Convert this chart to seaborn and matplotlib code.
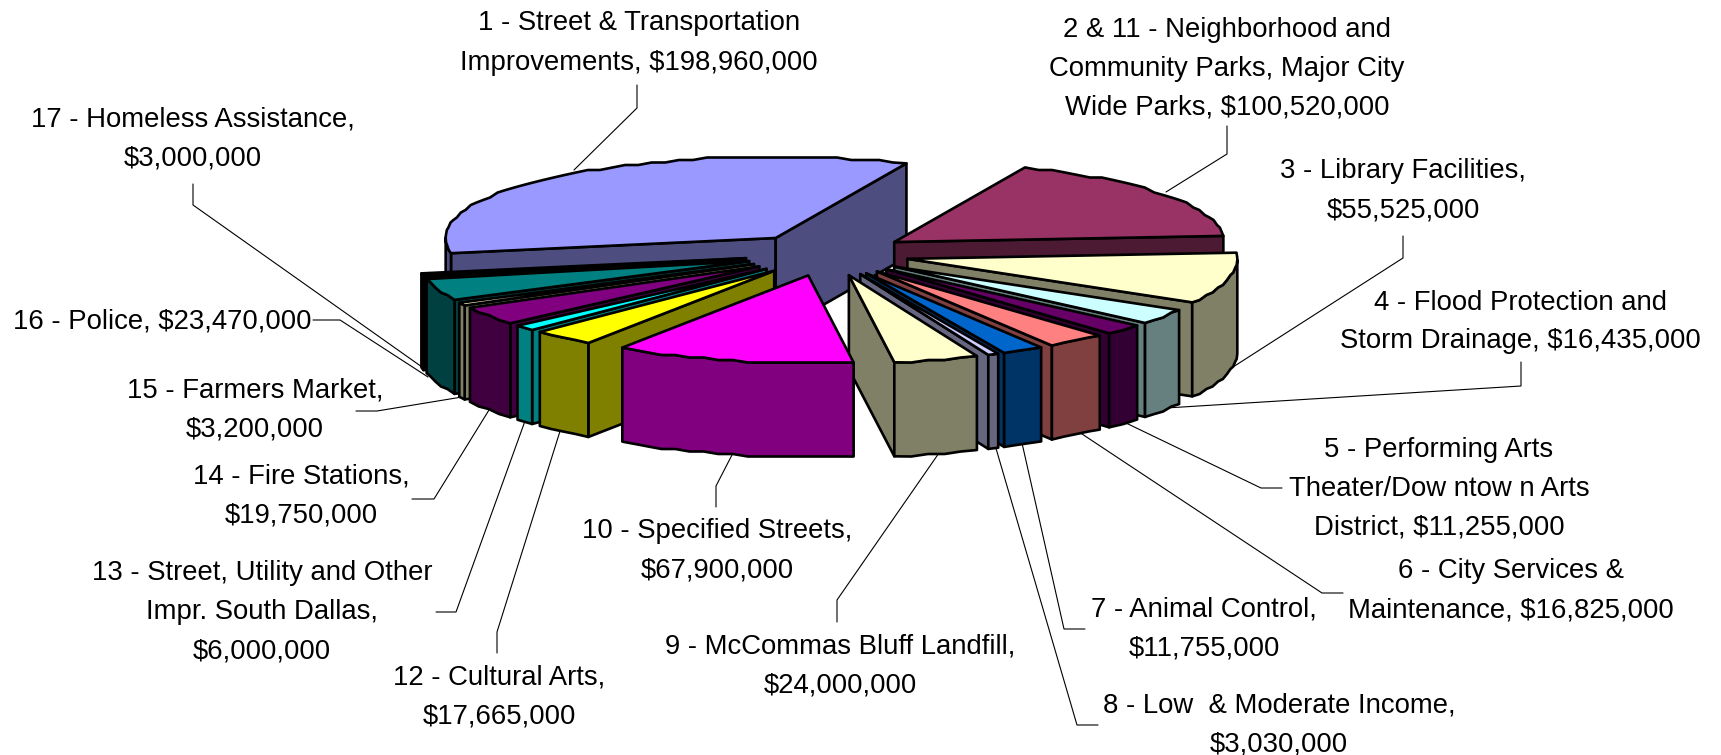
import numpy as np
import matplotlib
matplotlib.use("Agg")
import matplotlib.pyplot as plt
from matplotlib.patches import Polygon
import seaborn as sns

# ---- data ----
labels = ["1 - Street & Transportation\nImprovements, $198,960,000",
          "2 & 11 - Neighborhood and\nCommunity Parks, Major City\nWide Parks, $100,520,000",
          "3 - Library Facilities,\n$55,525,000",
          "4 - Flood Protection and\nStorm Drainage, $16,435,000",
          "5 - Performing Arts\nTheater/Dow ntow n Arts\nDistrict, $11,255,000",
          "6 - City Services &\nMaintenance, $16,825,000",
          "7 - Animal Control,\n$11,755,000",
          "8 - Low  & Moderate Income,\n$3,030,000",
          "9 - McCommas Bluff Landfill,\n$24,000,000",
          "10 - Specified Streets,\n$67,900,000",
          "12 - Cultural Arts,\n$17,665,000",
          "13 - Street, Utility and Other\nImpr. South Dallas,\n$6,000,000",
          "14 - Fire Stations,\n$19,750,000",
          "15 - Farmers Market,\n$3,200,000",
          "16 - Police, $23,470,000",
          "17 - Homeless Assistance,\n$3,000,000"]
values = [198960000, 100520000, 55525000, 16435000, 11255000, 16825000, 11755000, 3030000,
          24000000, 67900000, 17665000, 6000000, 19750000, 3200000, 23470000, 3000000]
colors = ["#9999FF", "#993366", "#FFFFCC", "#CCFFFF", "#660066", "#FF8080", "#0066CC", "#CCCCFF",
          "#FFFFCC", "#FF00FF", "#FFFF00", "#00FFFF", "#800080", "#FFFFCC", "#008080", "#0A0A0A"]

# label anchor centres (figure pixels)
label_xy = [(639, 43), (1227, 69), (1403, 191), (1520, 322), (1439, 489), (1511, 591),
            (1204, 629), (1279, 725), (840, 666), (717, 551), (499, 697), (262, 612),
            (301, 496), (255, 410), (162, 322), (193, 139)]
leaders = [[(637, 85), (637, 108), (574, 170)],
           [(1227, 126), (1227, 154), (1166, 192)],
           [(1403, 236), (1403, 258), (1233, 367)],
           [(1521, 362), (1521, 386), (1166, 408)],
           [(1282, 488), (1261, 488), (1126, 423)],
           [(1343, 593), (1322, 593), (1079, 432)],
           [(1085, 629), (1064, 629), (1022, 443)],
           [(1098, 725), (1077, 725), (995, 445)],
           [(837, 622), (837, 600), (939, 453)],
           [(716, 507), (716, 486), (733, 453)],
           [(497, 653), (497, 632), (561, 428)],
           [(436, 612), (456, 612), (525, 421)],
           [(412, 499), (434, 499), (489, 410)],
           [(356, 411), (377, 411), (462, 397)],
           [(313, 320), (340, 320), (428, 377)],
           [(193, 184), (193, 205), (422, 367)]]

# ---- pie projection ----
CX, CY, A, B, B_PERSP, EXPLODE, H = 827, 254, 330, 84.5, 3.5, 0.25, 94
START = -100.3
LW = 1.9

sns.set_theme(style="white")
plt.rcParams["font.family"] = ["Liberation Sans", "DejaVu Sans"]
palette = sns.color_palette(colors)

fig, ax = plt.subplots(figsize=(17.21, 7.55), dpi=100)
fig.subplots_adjust(0, 0, 1, 1)
ax.set_xlim(0, 1721)
ax.set_ylim(755, 0)
ax.axis("off")

vals = np.array(values, dtype=float)
sweep = vals / vals.sum() * 360
ends = START + np.cumsum(sweep)
starts = ends - sweep


def project(theta, r=1.0, ox=CX, oy=CY):
    t = np.radians(theta)
    b = B - B_PERSP * np.cos(t)
    return np.column_stack([ox + A * r * np.sin(t), oy - b * r * np.cos(t)]).squeeze()


def quad(p, q, color, z):
    ax.add_patch(Polygon([p, q, (q[0], q[1] + H), (p[0], p[1] + H)], closed=True, fc=color,
                         ec="black", lw=LW, joinstyle="round", zorder=z))


mids = (starts + ends) / 2
order = np.argsort(-np.cos(np.radians(mids)))
for rank, i in enumerate(order):
    z = 2 + rank
    top = np.array(palette[i])
    side = top / 2
    ox, oy = project(mids[i], EXPLODE)
    apex = np.array([ox, oy])
    n = max(2, int(sweep[i] / 2.5) + 1)
    th = np.linspace(starts[i], ends[i], n)
    arc = np.atleast_2d(project(th, 1.0, ox, oy))
    # stepped outline of the low-resolution original
    arc[1:-1, 1] = np.round(arc[1:-1, 1] / 2.5) * 2.5
    # radial walls that face the viewer
    if np.sin(np.radians(starts[i])) < 0:
        quad(apex, arc[0], side, z)
    if np.sin(np.radians(ends[i])) > 0:
        quad(arc[-1], apex, side, z)
    # outer wall, front half only
    c = np.cos(np.radians(th))
    front = c < 0.02
    if front.sum() >= 2:
        seg = arc[front]
        wall = np.vstack([seg, seg[::-1] + [0, H]])
        ax.add_patch(Polygon(wall, closed=True, fc=side, ec="black", lw=LW,
                             joinstyle="round", zorder=z))
    ax.add_patch(Polygon(np.vstack([apex, arc]), closed=True, fc=top, ec="black", lw=LW,
                         joinstyle="round", zorder=z))

for path in leaders:
    p = np.array(path)
    ax.plot(p[:, 0], p[:, 1], color="black", lw=0.8, zorder=1.5, solid_joinstyle="miter")

for lab, (x, y) in zip(labels, label_xy):
    ax.text(x, y, lab, ha="center", va="center", fontsize=19.8, linespacing=1.65,
            color="black", zorder=40)

fig.savefig("out.png", dpi=100, facecolor="white")
